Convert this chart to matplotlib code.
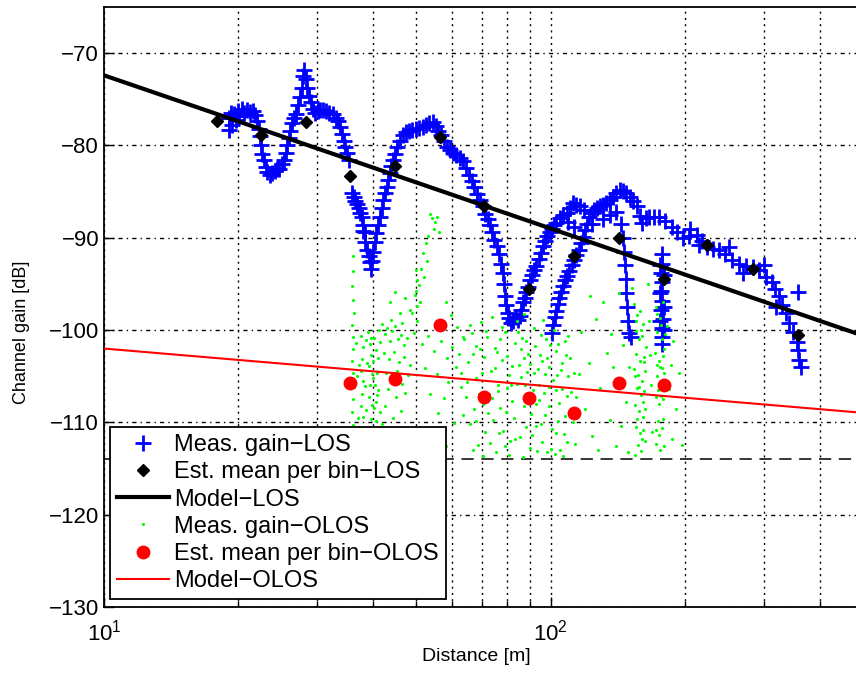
import numpy as np
import matplotlib
matplotlib.use('Agg')
import matplotlib.pyplot as plt
from matplotlib.ticker import LogLocator, NullFormatter, FixedLocator

plt.rcParams['font.family'] = ['Liberation Sans', 'DejaVu Sans']

# measured gain, LOS (distance [m], gain [dB])
los_d = [19.0, 19.0, 19.2, 19.3, 19.5, 19.7, 19.9, 20.1, 20.4, 20.6, 20.9, 21.2, 21.5, 21.8,
         22.0, 22.2, 22.3, 22.5, 22.6, 22.8, 23.0, 23.2, 23.5, 23.8, 24.1, 24.4, 24.7, 25.0,
         25.3, 25.5, 25.7, 25.9, 26.1, 26.3, 26.6, 26.9, 27.2, 27.5, 27.7, 27.9, 28.1, 28.3,
         28.5, 28.8, 29.1, 29.4, 29.7, 30.1, 30.5, 30.9, 31.4, 31.9, 32.5, 33.0, 33.4, 33.8,
         34.1, 34.4, 34.7, 35.0, 35.3,
         35.9, 36.2, 36.5, 36.8, 37.2, 37.5, 37.8, 37.9, 38.0, 38.3, 38.4, 38.8, 39.1, 39.4,
         39.6, 39.9, 40.1, 40.4, 40.7, 41.0, 41.4, 41.8, 42.1, 42.5, 43.0, 43.3, 43.6, 44.0,
         44.3, 44.8, 45.3, 45.9, 46.6, 47.4, 48.2, 49.0, 49.9, 50.8, 51.7, 52.6, 53.5, 54.4,
         55.3, 56.0, 56.8, 57.6, 58.5, 59.4, 60.4, 61.4, 62.5, 63.5, 64.5, 65.5, 66.5, 67.5,
         68.5, 69.5, 70.5, 71.4, 72.3, 73.2, 74.0, 74.8, 75.7, 76.5, 77.2, 78.0, 78.5, 78.9,
         79.5, 80.1, 80.8, 81.6, 82.5, 83.4, 84.3, 85.2, 86.0, 86.8, 87.5, 88.2, 88.8, 89.8,
         90.8, 91.8, 92.9, 93.9, 94.9, 95.9, 97.0, 98.2, 99.5, 100.7, 101.9, 103.0, 104.8,
         106.7, 108.6, 110.3, 112.0, 114.0, 116.0,
         100.5, 101.2, 102.0, 102.8, 103.6, 104.5, 105.5, 106.5, 107.5, 108.7, 110.0, 111.3,
         112.6, 114.0, 115.4, 116.7, 118.0, 119.3, 120.6, 122.0, 123.5, 125.0, 126.8, 128.6,
         130.8, 133.0, 135.4, 137.8, 140.2, 142.6, 145.0, 147.5, 150.1, 152.7, 155.6, 158.0,
         160.0, 109.5, 113.0, 118.5, 124.0, 131.0, 136.0, 140.0,
         143.8, 145.0, 145.8, 146.5, 147.0, 147.6, 148.2, 149.0, 150.0, 151.0,
         177.0, 177.5, 176.5, 177.8, 176.8, 177.5, 176.5, 178.0, 177.0, 177.5, 177.0, 175.5,
         179.5, 175.5, 179.5, 175.8, 179.0,
         163.0, 166.3, 170.0, 175.0, 180.0, 187.0, 192.0, 197.6, 204.0, 212.0, 218.0, 224.0,
         231.0, 238.0, 246.0, 255.0, 264.0, 274.0, 283.0, 293.0, 303.0, 313.0, 318.0, 324.0,
         330.0, 336.0, 342.0, 348.0, 355.0, 358.0, 360.0, 363.0, 357.0, 205.0, 215.0, 250.0,
         270.0, 300.0, 320.0]
los_g = [-77.0, -78.3, -76.5, -77.8, -76.6, -77.2, -76.3, -76.8, -76.0, -76.5, -76.2, -76.4,
         -76.3, -76.7, -77.3, -78.2, -79.0, -80.0, -80.9, -81.6, -82.3, -82.9, -83.2, -83.0,
         -82.8, -82.6, -82.5, -82.0, -81.6, -80.8, -80.0, -79.2, -78.4, -77.6, -77.0, -76.6,
         -75.6, -74.7, -73.8, -72.5, -71.8, -72.8, -73.8, -74.6, -75.3, -76.0, -76.5, -76.3,
         -76.2, -76.2, -76.3, -76.5, -76.6, -77.0, -77.4, -78.0, -78.8, -79.5, -80.2, -80.8,
         -81.6,
         -85.1, -85.6, -86.0, -86.3, -86.8, -87.3, -87.8, -88.6, -89.3, -89.4, -90.5, -91.3,
         -92.0, -92.6, -93.4, -92.5, -91.5, -90.5, -89.5, -88.6, -87.7, -86.8, -85.9, -85.2,
         -84.5, -83.7, -83.0, -82.2, -81.6, -80.9, -80.2, -79.5, -78.9, -78.5, -78.4, -78.3,
         -78.2, -78.1, -78.0, -77.8, -77.6, -77.5, -77.9, -78.4, -78.9, -79.5, -80.2, -80.5,
         -80.8, -81.0, -81.4, -81.7, -82.4, -83.2, -83.8, -84.5, -85.3, -85.9, -86.6, -87.4,
         -88.0, -88.6, -89.4, -90.2, -90.9, -91.8, -92.8, -93.8, -95.0, -96.3, -97.3, -98.1,
         -98.7, -99.2, -99.0, -98.6, -98.9, -98.5, -97.8, -97.0, -96.5, -95.9, -95.3, -94.6,
         -94.0, -93.5, -93.1, -92.3, -91.6, -90.9, -90.3, -89.8, -89.4, -89.0, -88.6, -88.4,
         -87.9, -87.5, -87.3, -86.8, -86.2, -86.5, -86.6,
         -100.3, -99.5, -98.6, -97.9, -97.2, -96.5, -95.9, -95.2, -94.6, -94.1, -93.6, -93.0,
         -92.4, -91.9, -91.3, -90.6, -89.9, -89.2, -88.5, -87.7, -87.3, -87.0, -86.8, -86.6,
         -86.4, -86.2, -85.9, -85.6, -85.2, -84.8, -84.9, -85.2, -85.6, -86.0, -86.6, -87.6,
         -88.4, -88.3, -88.8, -87.0, -88.5, -88.0, -87.5, -87.2,
         -88.5, -90.0, -91.5, -93.0, -94.5, -96.0, -97.5, -99.0, -100.3, -100.8,
         -91.8, -92.8, -93.8, -94.8, -95.8, -96.8, -97.8, -98.8, -99.8, -100.8, -101.5, -93.0,
         -94.0, -96.0, -97.5, -99.0, -100.0,
         -87.9, -87.8, -87.7, -87.8, -88.2, -88.8, -89.4, -90.0, -89.8, -89.7, -90.4, -91.0,
         -91.2, -91.3, -91.8, -92.4, -92.8, -93.1, -93.2, -93.5, -94.2, -94.8, -95.5, -96.3,
         -97.3, -98.2, -99.2, -100.2, -101.3, -102.2, -103.2, -104.0, -95.9, -89.0, -90.8,
         -91.0, -93.8, -93.0, -97.5]

# estimated mean per bin, LOS
bin_los_d = [17.9, 22.5, 28.3, 35.5, 44.8, 56.5, 70.8, 89.3, 112.5, 141.8, 179.0, 224.0, 283.0, 357.0]
bin_los_g = [-77.4, -78.9, -77.5, -83.3, -82.2, -79.1, -86.6, -95.5, -92.0, -90.0, -94.5, -90.8, -93.4, -100.5]

# measured gain, OLOS
olos_d = [36.0, 36.1, 35.9, 36.0, 36.2, 35.9, 36.0, 36.1, 35.9, 36.0, 36.2, 36.0, 35.9, 36.1,
          36.0, 36.0, 36.1,
          37.7, 37.9, 37.8, 37.6, 37.9, 37.8, 37.7, 37.9, 37.8, 37.7, 37.9,
          39.0, 39.3, 39.6, 39.1, 39.8, 39.4, 39.2, 39.9, 39.5, 39.0, 39.7, 39.3, 40.3, 40.6,
          40.1, 40.8, 40.4, 40.9, 40.2, 40.7, 40.5, 40.0, 40.8, 41.2, 41.5, 41.0, 41.3,
          38.5, 38.7, 38.4, 38.6, 38.5, 38.8, 39.5, 40.0, 40.6, 39.8, 41.1, 41.4, 41.6, 36.6,
          36.8, 37.0, 37.2, 36.5,
          42.0, 42.6, 43.1, 43.7, 44.2, 44.9, 45.5, 46.2, 46.9, 47.6, 42.3, 43.4, 44.6, 45.8,
          47.0, 48.3, 42.8, 44.0, 45.2, 46.5, 47.9, 43.2, 45.0, 47.2, 42.5, 44.4, 46.3, 43.8,
          45.6, 41.8, 42.9, 46.8, 43.6, 44.8, 45.9, 47.1, 48.4, 44.0, 46.4,
          53.6, 54.3, 55.0, 55.6, 54.8, 56.2, 53.2, 52.5, 51.8, 52.9, 51.2, 52.1, 50.6, 49.8,
          51.0, 48.9, 50.2, 49.5, 50.0, 50.1, 49.9, 50.3,
          51.5, 53.0, 54.9, 56.8, 58.5, 60.2, 52.2, 55.5, 59.0, 61.5, 53.8, 57.6, 63.0, 56.0,
          60.7, 58.2, 54.5, 57.0, 59.8, 58.3, 61.8, 63.5, 62.4,
          63.8, 65.2, 66.6, 67.9, 69.3, 70.6, 72.1, 73.4, 74.9, 76.2, 77.6, 79.0, 80.5, 81.9,
          83.3, 84.8, 86.2, 87.6, 89.1, 90.5, 92.0, 93.5, 95.0, 96.6, 98.1, 99.7, 101.3, 102.9,
          104.5, 106.2, 107.8, 109.5, 111.2, 64.5, 66.0, 67.3, 68.8, 70.0, 71.4, 72.8, 74.2,
          75.5, 77.0, 78.3, 79.7, 81.2, 82.6, 84.0, 85.5, 86.9, 88.4, 89.8, 91.2, 92.7, 94.2,
          95.8, 97.3, 98.9, 100.5, 102.1, 103.7, 105.3, 107.0, 108.6, 110.3, 112.0, 65.8, 69.9,
          74.0, 77.9, 83.9, 87.1, 91.6, 96.0, 63.0, 68.2, 71.0, 75.9, 80.0, 85.7, 90.0, 94.6,
          99.0, 104.0, 108.0, 112.5, 66.9, 73.0, 80.8, 86.5, 93.0, 100.0, 106.5, 114.0, 113.5,
          115.5,
          64.9, 67.0, 69.0, 71.8, 73.9, 75.2, 76.8, 79.3, 82.0, 84.5, 86.0, 88.0, 89.5, 91.5,
          93.9, 95.5, 97.8, 99.3, 101.8, 103.3, 105.8, 107.4, 109.1, 110.8, 63.5, 68.0, 72.5,
          76.5, 79.0, 83.0, 88.0, 91.0, 95.0, 98.0, 102.5, 105.0, 109.0, 70.5, 76.0, 81.5,
          87.0, 92.5, 97.0, 103.0,
          117.0, 119.5, 121.8, 124.0, 126.5, 129.0, 131.0, 133.5, 135.8, 138.0, 140.0, 127.5,
          122.5, 136.5,
          153.5, 156.0, 158.6, 161.2, 154.8, 157.5, 160.3, 163.0, 155.2, 158.0, 161.8, 153.8,
          156.9, 160.0, 162.7, 155.6, 158.9, 161.5, 154.3, 157.3, 160.6, 155.0, 158.2, 161.0,
          156.4, 159.5, 154.0, 162.5,
          155.5, 159.0, 162.0, 154.5, 157.8, 160.8, 156.2, 159.8, 162.8,
          172.0, 175.5, 178.8, 173.2, 177.0, 180.0, 171.5, 174.8, 178.2, 172.6, 176.3, 179.5,
          171.8, 175.0, 178.6, 173.5, 177.2, 172.3, 176.0, 179.0, 174.0, 177.8,
          173.0, 176.8, 179.2, 172.8, 176.6, 174.5, 178.0, 171.6, 175.8,
          142.5, 145.0, 147.5, 150.0, 143.8, 149.0, 165.5, 167.5, 168.5, 166.5, 182.0, 185.5,
          188.0, 191.0, 194.0, 186.5, 197.0, 183.5, 152.0, 165.0]
olos_g = [-92.0, -93.6, -95.2, -96.7, -98.1, -99.4, -100.8, -102.0, -103.3, -104.6, -106.2,
          -107.5, -108.9, -110.3, -111.6, -112.9, -113.7,
          -100.6, -101.8, -103.1, -104.4, -105.5, -106.9, -108.2, -109.4, -110.8, -112.1, -113.4,
          -100.2, -101.5, -102.7, -103.9, -104.8, -106.0, -107.3, -108.1, -109.6, -110.9, -112.0,
          -113.3, -100.9, -102.2, -103.3, -104.6, -105.9, -107.0, -108.4, -109.9, -111.4, -112.7,
          -113.6, -100.0, -101.3, -106.5, -110.6,
          -101.1, -103.6, -106.1, -108.7, -111.3, -113.0, -100.9, -105.2, -107.8, -111.6, -103.0,
          -108.9, -112.4, -101.4, -105.0, -109.5, -103.8, -112.2,
          -99.3, -100.4, -99.8, -101.2, -100.1, -99.6, -101.0, -100.5, -101.6, -100.9, -102.5,
          -103.1, -102.4, -103.5, -102.9, -103.8, -104.6, -105.3, -104.4, -105.8, -104.9, -106.4,
          -107.2, -106.8, -108.2, -109.5, -108.8, -111.2, -112.4, -110.2, -113.1, -110.9, -97.0,
          -95.9, -98.2, -96.5, -97.8, -98.9, -99.2,
          -87.4, -87.9, -88.3, -87.8, -89.0, -89.4, -89.8, -90.6, -91.7, -92.5, -93.4, -94.3,
          -95.1, -96.2, -97.0, -98.1, -99.0, -100.3, -93.5, -94.6, -95.8, -97.4,
          -101.5, -100.6, -102.3, -101.2, -103.0, -101.8, -104.1, -104.8, -105.6, -104.0, -106.9,
          -107.4, -106.2, -109.0, -110.1, -112.6, -111.3, -99.6, -98.4, -97.0, -99.7, -100.8,
          -102.6,
          -101.0, -103.5, -100.3, -105.2, -102.1, -108.0, -100.8, -104.4, -101.9, -106.6, -103.2,
          -100.2, -104.9, -107.7, -101.4, -103.8, -100.9, -106.0, -102.6, -109.1, -101.7, -104.2,
          -100.5, -106.8, -103.0, -101.6, -105.4, -102.3, -107.9, -103.6, -101.2, -105.0, -108.6,
          -107.3, -110.2, -108.6, -112.4, -104.6, -111.0, -106.9, -109.7, -113.2, -108.4, -110.9,
          -106.3, -112.0, -109.5, -105.8, -111.6, -108.2, -104.5, -112.8, -106.5, -110.4, -107.6,
          -112.1, -109.2, -106.2, -110.7, -113.4, -109.8, -104.3, -111.3, -107.1, -103.0, -110.0,
          -99.4, -99.1, -98.6, -99.7, -99.0, -98.3, -99.8, -98.9, -104.7, -101.7, -102.9, -102.4,
          -102.8, -102.0, -103.7, -102.7, -104.0, -101.5, -102.7, -104.6, -113.0, -112.2, -113.5,
          -113.8, -113.1, -112.9, -113.6, -107.2, -112.3, -104.8,
          -105.6, -102.6, -106.9, -100.1, -107.4, -104.1, -101.0, -108.9, -103.9, -100.2, -105.1,
          -101.2, -107.0, -104.6, -105.9, -103.4, -101.0, -108.2, -100.0, -104.9, -106.4, -109.3,
          -100.6, -106.7, -109.2, -109.8, -109.0, -111.1, -112.6, -111.8, -110.5, -111.4, -110.2,
          -113.2, -111.1, -113.0, -112.1, -113.6, -106.0, -106.0, -103.0, -108.0, -104.8, -106.5,
          -100.2, -108.5, -103.6, -111.5, -98.8, -106.3, -97.0, -102.5, -109.7, -104.0, -112.6,
          -113.0, -96.3, -100.4,
          -97.2, -98.4, -97.9, -99.3, -100.1, -101.0, -100.6, -101.8, -102.6, -103.3, -102.9,
          -104.2, -104.9, -105.5, -104.4, -106.3, -107.0, -106.6, -108.1, -108.8, -109.4, -110.5,
          -111.2, -110.8, -112.5, -113.1, -113.5, -112.0,
          -99.0, -100.0, -103.5, -105.0, -106.2, -107.8, -109.6, -111.8, -108.5,
          -97.5, -98.7, -97.0, -100.2, -101.0, -100.4, -102.5, -103.4, -102.8, -105.0, -105.9,
          -104.6, -107.2, -108.0, -107.5, -109.8, -110.6, -112.3, -113.0, -112.6, -106.5, -104.1,
          -98.3, -99.4, -102.0, -103.8, -107.1, -111.4, -109.6, -110.8, -104.0,
          -96.0, -101.6, -107.8, -104.0, -110.4, -113.2, -99.0, -106.0, -111.0, -102.7, -99.6,
          -103.8, -101.2, -108.6, -104.7, -111.8, -112.5, -106.4, -95.4, -95.0]

# estimated mean per bin, OLOS
bin_olos_d = [35.5, 44.8, 56.5, 70.8, 89.3, 112.5, 141.8, 179.0]
bin_olos_g = [-105.7, -105.3, -99.4, -107.3, -107.4, -109.0, -105.7, -105.9]

# path loss models: gain at 10 m and slope per decade
model_d = [10, 500]
los_g0, los_slope = -72.4, -16.6
olos_g0, olos_slope = -102.0, -4.1
noise_floor = -114

fig = plt.figure(figsize=(8.56, 6.74), dpi=100)
ax = fig.add_axes([0.1215, 0.0994, 0.8867, 0.8902])

ax.plot(los_d, los_g, '+', color='#0000ff', markersize=11, markeredgewidth=2,
        label='Meas. gain\u2212LOS', zorder=2)
ax.plot(bin_los_d, bin_los_g, 'D', color='k', markersize=6.5, label='Est. mean per bin\u2212LOS', zorder=5)
md = np.array(model_d, dtype=float)
ax.plot(md, los_g0 + los_slope * np.log10(md / 10), '-', color='k', linewidth=3,
        label='Model\u2212LOS', zorder=4)
ax.plot(olos_d, olos_g, '.', color='#00ff00', markersize=4.5, markeredgewidth=0,
        label='Meas. gain\u2212OLOS', zorder=3)
ax.plot(bin_olos_d, bin_olos_g, 'o', color='#ff0000', markersize=9, label='Est. mean per bin\u2212OLOS', zorder=5)
ax.plot(md, olos_g0 + olos_slope * np.log10(md / 10), '-', color='#ff0000', linewidth=1.5,
        label='Model\u2212OLOS', zorder=4)
ax.axhline(noise_floor, color='k', linestyle=(0, (8, 5)), linewidth=1.1, zorder=1)

ax.set_xscale('log')
ax.set_xlim(10, 500)
ax.set_ylim(-130, -65)
ax.yaxis.set_major_locator(FixedLocator([-130, -120, -110, -100, -90, -80, -70]))
ax.xaxis.set_major_locator(FixedLocator([10, 100]))
ax.xaxis.set_minor_locator(LogLocator(base=10, subs=np.arange(2, 10)))
ax.xaxis.set_minor_formatter(NullFormatter())
ax.grid(True, which='both', axis='x', color='k', linestyle=(0, (1.5, 3)), linewidth=1)
ax.grid(True, which='major', axis='y', color='k', linestyle=(0, (3, 3, 1, 3)), linewidth=1)
ax.tick_params(which='both', direction='in', labelsize=16, width=1)
ax.tick_params(which='major', length=7)
ax.tick_params(which='minor', length=4)
ax.tick_params(axis='x', pad=9)
for s in ax.spines.values():
    s.set_linewidth(1.3)

ax.set_xlabel('Distance [m]', fontsize=14)
ax.set_ylabel('Channel gain [dB]', fontsize=13)
ax.xaxis.set_label_coords(0.491, -0.068)
ax.yaxis.set_label_coords(-0.098, 0.457)

leg = ax.legend(loc='lower left', bbox_to_anchor=(0.008, 0.013), borderaxespad=0,
                fontsize=17, fancybox=False, framealpha=1, edgecolor='k',
                handlelength=2.2, handletextpad=0.2, labelspacing=0.22,
                borderpad=0.3, numpoints=1)
leg.get_frame().set_linewidth(1.3)

fig.savefig('out.png', dpi=100)
